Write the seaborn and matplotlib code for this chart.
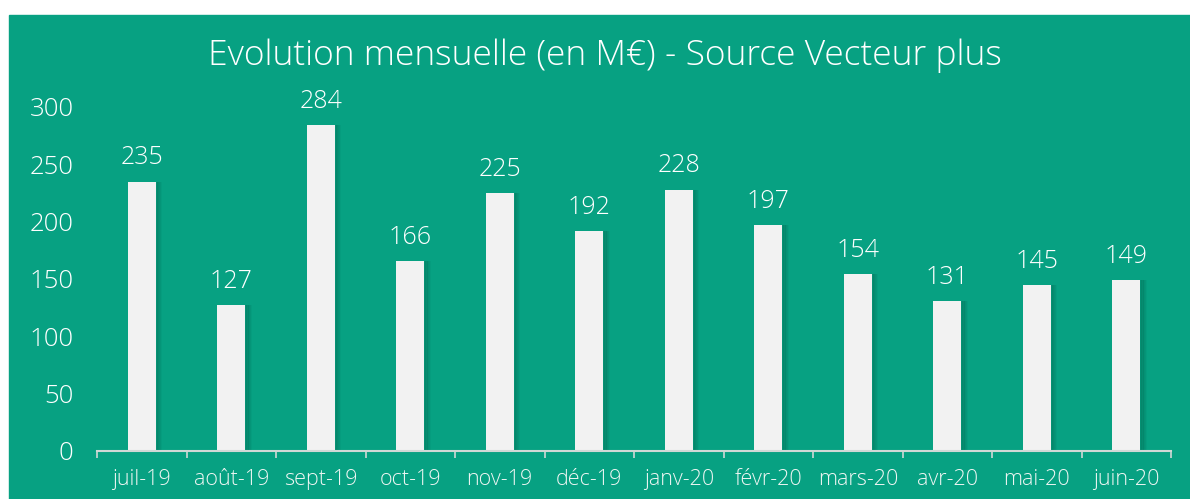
import matplotlib
matplotlib.use("Agg")
import matplotlib.pyplot as plt
import seaborn as sns
import pandas as pd
import numpy as np

months = ["juil-19", "août-19", "sept-19", "oct-19", "nov-19", "déc-19",
          "janv-20", "févr-20", "mars-20", "avr-20", "mai-20", "juin-20"]
values = [235, 127, 284, 166, 225, 192, 228, 197, 154, 131, 145, 149]
yticks = [0, 50, 100, 150, 200, 250, 300]
title = "Evolution mensuelle (en M€) - Source Vecteur plus"

GREEN = "#07A182"
BAR = "#F2F2F2"

sns.set_theme(style="white")
plt.rcParams["font.family"] = ["Open Sans", "DejaVu Sans"]
FW = "light"

df = pd.DataFrame({"mois": months, "valeur": values})

fig = plt.figure(figsize=(11.9, 4.99), dpi=100)
fig.patch.set_facecolor("white")
bg = plt.Rectangle((9 / 1190, 0), 1 - 9 / 1190, (499 - 15) / 499,
                   transform=fig.transFigure, color=GREEN, zorder=-10)
fig.patches.append(bg)

ax = fig.add_axes([97 / 1190, (499 - 451) / 499, 1074 / 1190, 344 / 499])
ax.set_facecolor("none")

w = 0.313
x = np.arange(len(months))
# shadow
for k, a in enumerate([0.10, 0.08, 0.06, 0.04, 0.03]):
    ax.bar(x + w / 2 + 0.012 * (k + 1), values, width=0.025, color="#03543f",
           alpha=a * 2.0, linewidth=0, zorder=1)

sns.barplot(data=df, x="mois", y="valeur", color=BAR, width=w,
            saturation=1, ax=ax, zorder=2, linewidth=0)
for c in ax.containers:
    if len(c) == len(months) and c.patches[0].get_facecolor()[0] > 0.9:
        ax.bar_label(c, labels=[str(v) for v in values], padding=8,
                     color="white", fontsize=18, fontweight=FW)

ax.set_xlim(-0.5, len(months) - 0.5)
ax.set_ylim(0, 300)
ax.set_yticks(yticks)
ax.set_yticklabels([str(t) for t in yticks], color="white", fontsize=18.5,
                   fontweight=FW)
ax.tick_params(axis="y", length=0, pad=17)
ax.set_xticks(x)
ax.set_xticklabels(months, color="#EEF6F3", fontsize=15.5, fontweight=FW)
ax.tick_params(axis="x", which="major", length=0, pad=13)
ax.set_xticks(np.arange(-0.5, len(months), 1), minor=True)
ax.tick_params(axis="x", which="minor", length=5, width=1.2, color="#D0D8D5",
               direction="out", bottom=True)
ax.set_xlabel("")
ax.set_ylabel("")
for s in ["top", "right", "left"]:
    ax.spines[s].set_visible(False)
ax.spines["bottom"].set_color("#D0D8D5")
ax.spines["bottom"].set_linewidth(1.5)
ax.grid(False)

fig.text(605 / 1190, 1 - 56 / 499, title, ha="center", va="center",
         color="white", fontsize=25.5, fontweight=FW)

fig.savefig("out.png", dpi=100, facecolor=fig.get_facecolor())
